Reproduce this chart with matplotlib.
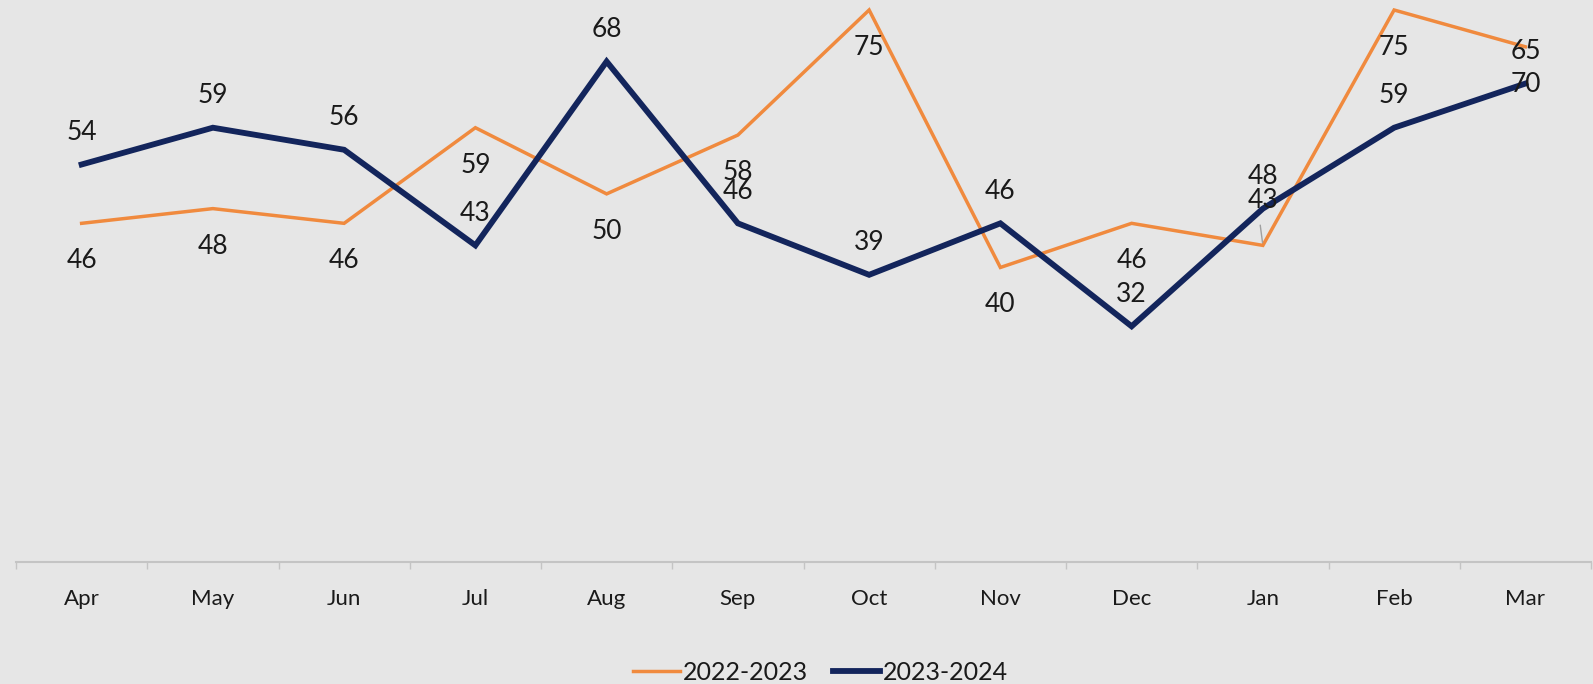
import numpy as np
import matplotlib
matplotlib.use('Agg')
import matplotlib.pyplot as plt

# Chart data
months = ['Apr', 'May', 'Jun', 'Jul', 'Aug', 'Sep', 'Oct', 'Nov', 'Dec', 'Jan', 'Feb', 'Mar']
fy_2022_23 = [46, 48, 46, 59, 50, 58, 75, 40, 46, 43, 75, 70]
fy_2023_24 = [54, 59, 56, 43, 68, 46, 39, 46, 32, 48, 59, 65]

bg = '#e6e6e6'
orange = '#f08a3e'
navy = '#13255c'

plt.rcParams['font.family'] = ['Lato', 'DejaVu Sans']

W, H = 1593, 684
fig = plt.figure(figsize=(W / 100, H / 100), dpi=100, facecolor=bg)
ax = fig.add_axes([16 / W, (H - 561.7) / H, (1591 - 16) / W, 561.7 / H])
ax.set_facecolor(bg)

x = np.arange(len(months))
ax.plot(x, fy_2022_23, color=orange, lw=2.5, label='2022-2023', solid_joinstyle='miter')
ax.plot(x, fy_2023_24, color=navy, lw=4.2, label='2023-2024', solid_joinstyle='miter')

ax.set_xlim(-0.5, len(months) - 0.5)
ax.set_ylim(0, 76.36)

# data labels: orange below the point, navy above
for i, v in enumerate(fy_2022_23):
    if months[i] == 'Jan':
        ax.annotate(str(v), (i, v), xytext=(0, 45), textcoords='offset pixels',
                    ha='center', va='center', fontsize=19, color='#1a1a1a')
        ax.annotate('', (i, v), xytext=(-3, 23), textcoords='offset pixels',
                    arrowprops=dict(arrowstyle='-', color='#a0a0a0', lw=1))
    else:
        ax.annotate(str(v), (i, v), xytext=(0, -37.5), textcoords='offset pixels',
                    ha='center', va='center', fontsize=19, color='#1a1a1a')
for i, v in enumerate(fy_2023_24):
    ax.annotate(str(v), (i, v), xytext=(0, 32), textcoords='offset pixels',
                ha='center', va='center', fontsize=19, color='#1a1a1a')

for s in ['top', 'left', 'right']:
    ax.spines[s].set_visible(False)
ax.spines['bottom'].set_color('#c4c4c4')
ax.spines['bottom'].set_linewidth(1.5)
ax.set_yticks([])
ax.set_xticks(x)
ax.set_xticklabels(months, fontsize=16, color='#1a1a1a')
ax.tick_params(axis='x', which='major', length=0, pad=20)
ax.set_xticks(np.arange(-0.5, len(months)), minor=True)
ax.tick_params(axis='x', which='minor', length=5, color='#c4c4c4', width=1)

fig.legend(loc='center', bbox_to_anchor=(0.515, 0.0175), ncol=2, frameon=False,
           fontsize=18, handlelength=1.9, handletextpad=0.1, columnspacing=1.0,
           labelcolor='#1a1a1a')

fig.savefig('out.png', dpi=100, facecolor=bg)
